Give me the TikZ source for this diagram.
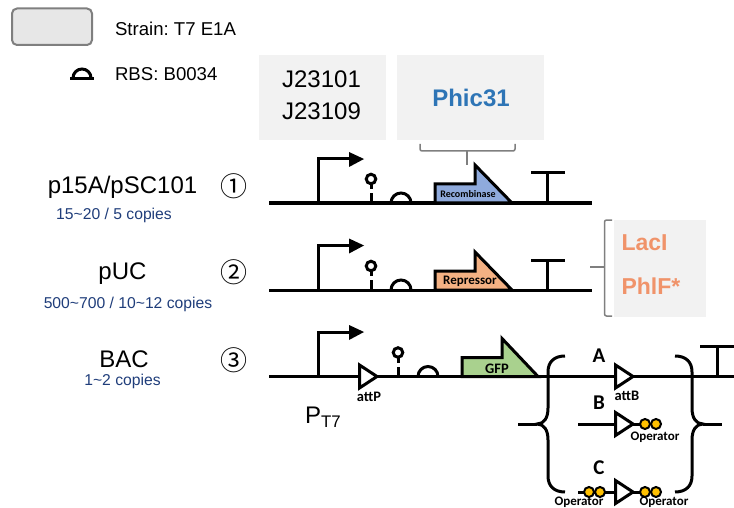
\documentclass[tikz,border=0pt]{standalone}
\usepackage{fontspec}
\setmainfont{Liberation Sans}
\newfontfamily\partfont{Carlito}
\newfontfamily\circfont{Noto Sans CJK KR}
\definecolor{boxgray}{HTML}{F2F2F2}
\definecolor{straingray}{HTML}{E7E7E7}
\definecolor{bracegray}{HTML}{7F7F7F}
\definecolor{copyblue}{HTML}{1F3D7A}
\definecolor{phicblue}{HTML}{2E75B6}
\definecolor{lacorange}{HTML}{F0936A}
\definecolor{recblue}{HTML}{8FAADC}
\definecolor{repfill}{HTML}{F4B183}
\definecolor{gfpgreen}{HTML}{A9D18E}
\definecolor{opyellow}{HTML}{FFC000}
\tikzset{
    part/.style={line width=3pt, black},
    cds/.style={part, line join=miter},
    attsite/.style={part, fill=white, line join=miter},
    opdot/.style={line width=2pt, black, fill=opyellow},
    bracket/.style={line width=1.5pt, bracegray, rounded corners=2pt},
    bigtext/.style={font=\fontsize{24}{24}\selectfont},
    copies/.style={font=\fontsize{15.7}{16}\selectfont, text=copyblue},
    circnum/.style={font=\circfont\fontsize{27}{27}\selectfont},
    plabel/.style={font=\partfont\bfseries\fontsize{14.5}{15}\selectfont, text=black},
    oplabel/.style={font=\partfont\bfseries\fontsize{13}{14}\selectfont, text=black},
    variant/.style={font=\partfont\bfseries\fontsize{21}{21}\selectfont, text=black},
    legendtext/.style={font=\fontsize{18.6}{19}\selectfont, anchor=west},
    grayblock/.style={fill=boxgray, draw=none},
}
\begin{document}
\frenchspacing
\begin{tikzpicture}[x=1pt,y=-1pt]
    \useasboundingbox (0,0) rectangle (734,508);

    % legend
    \draw[line width=2pt, bracegray, fill=straingray, rounded corners=5pt] (12,8.5) rectangle (92,45);
    \node[legendtext] (strain) at (111.5,29) {Strain: T7 E1A};
    \node[legendtext] (rbs) at (111.5,74.5) {RBS: B0034};
    \draw[part] (70,78.5) -- (94,78.5);
    \draw[part] (73,78) arc (180:360:9);

    % promoter boxes
    \fill[grayblock] (259,55) rectangle (386,140);
    \fill[grayblock] (397,55) rectangle (544,140);
    \node[bigtext] (jone) at (321.5,79.5) {J23101};
    \node[bigtext] (jtwo) at (321.5,111.5) {J23109};
    \node[font=\fontsize{24}{24}\selectfont\bfseries, text=phicblue] (phic) at (471,98) {Phic31};
    \draw[bracket] (420,144) -- (420,151) -- (515,151) -- (515,144);
    \draw[line width=1.5pt, bracegray] (467,151) -- (467,165);

    % repressor box
    \fill[grayblock] (614,220) rectangle (706,317);
    \node[font=\fontsize{23}{24}\selectfont\bfseries, text=lacorange, anchor=west] (laci) at (618,243) {LacI};
    \node[font=\fontsize{23}{24}\selectfont\bfseries, text=lacorange, anchor=west] (phlf) at (618,286) {PhlF*};
    \draw[bracket] (612,220) -- (604.5,220) -- (604.5,316) -- (612,316);
    \draw[line width=1.5pt, bracegray] (590,267) -- (604.5,267);

    % row 1
    \node[bigtext] (pa) at (122.5,187) {p15A/pSC101};
    \node[copies] (ca) at (114,215.5) {15\char`~20 / 5 copies};
    \node[circnum] (na) at (234,186) {①};
    \draw[part] (269,203) -- (592,203);
    \draw[part] (318,203) -- (318,159) -- (350,159);
    \fill (349,152) -- (364,159) -- (349,167) -- cycle;
    \draw[part] (371,203) -- (371,193);
    \draw[part] (371,189) -- (371,184);
    \draw[part] (371,179) circle (4.75);
    \draw[part] (391,203) arc (180:360:10);
    \draw[cds, fill=recblue] (435,203) -- (435,184) -- (475,184) -- (475,165) -- (512,203) -- cycle;
    \node[plabel, font=\partfont\bfseries\fontsize{10}{10}\selectfont] (rec) at (468,194.5) {Recombinase};
    \draw[part] (547,203) -- (547,173);
    \draw[part] (531,173) -- (565,173);

    % row 2
    \node[bigtext] (pb) at (122.5,274) {pUC};
    \node[copies] (cb) at (128,304.5) {500\char`~700 / 10\char`~12 copies};
    \node[circnum] (nb) at (234,272.5) {②};
    \draw[part] (269,290) -- (592,290);
    \draw[part] (318,290) -- (318,245.5) -- (350,245.5);
    \fill (349,238.5) -- (364,245.5) -- (349,253.5) -- cycle;
    \draw[part] (371,290) -- (371,280);
    \draw[part] (371,276) -- (371,271);
    \draw[part] (371,266) circle (4.75);
    \draw[part] (391,290) arc (180:360:10);
    \draw[cds, fill=repfill] (435,290) -- (435,271) -- (475,271) -- (475,252) -- (512,290) -- cycle;
    \node[plabel, font=\partfont\bfseries\fontsize{13}{13}\selectfont] (rep) at (470,281.5) {Repressor};
    \draw[part] (547,290) -- (547,260);
    \draw[part] (531,260) -- (565,260);

    % row 3
    \node[bigtext] (pc) at (124,359.5) {BAC};
    \node[copies] (cc) at (122.5,381) {1\char`~2 copies};
    \node[circnum] (nc) at (234,360) {③};
    \node[bigtext, anchor=west, inner sep=0pt] (pt) at (305,417) {P\textsubscript{T7}};
    \draw[part] (269,376.5) -- (734,376.5);
    \draw[part] (318,376.5) -- (318,332) -- (350,332);
    \fill (349,325) -- (364,332) -- (349,340) -- cycle;
    \draw[attsite] (359.5,365) -- (377,376.5) -- (359.5,388) -- cycle;
    \node[plabel] (attp) at (369,397) {attP};
    \draw[part] (398,376.5) -- (398,366.5);
    \draw[part] (398,362.5) -- (398,357.5);
    \draw[part] (398,352.5) circle (4.75);
    \draw[part] (418,376.5) arc (180:360:10);
    \draw[cds, fill=gfpgreen] (462,376.5) -- (462,357.5) -- (502,357.5) -- (502,338.5) -- (538,376.5) -- cycle;
    \node[plabel] (gfp) at (497,368.5) {GFP};
    \draw[part] (717,376.5) -- (717,346);
    \draw[part] (700,346) -- (734,346);

    % braces
    \draw[part] (565,356) .. controls (554,356) and (548,362) .. (548,372) -- (548,408) .. controls (548,418) and (544,424) .. (537,424) .. controls (544,424) and (548,430) .. (548,440) -- (548,476) .. controls (548,486) and (554,492) .. (565,492);
    \draw[part] (518,424) -- (537,424);
    \draw[part] (675,356) .. controls (686,356) and (692,362) .. (692,372) -- (692,408) .. controls (692,418) and (696,424) .. (703,424) .. controls (696,424) and (692,430) .. (692,440) -- (692,476) .. controls (692,486) and (686,492) .. (675,492);
    \draw[part] (703,424) -- (722,424);

    % variant A
    \node[variant] (va) at (599,356) {A};
    \draw[attsite] (615.5,365) -- (633,376.5) -- (615.5,388) -- cycle;
    \node[plabel] (attb) at (627,396) {attB};

    % variant B
    \node[variant] (vb) at (599,403) {B};
    \draw[part] (578,424) -- (616,424);
    \draw[attsite] (615.5,412.5) -- (633,424) -- (615.5,435.5) -- cycle;
    \draw[part] (633,424) -- (640,424);
    \draw[opdot] (645,424) circle (5);
    \draw[opdot] (656,424) circle (5);
    \node[oplabel] (opb) at (655,437.5) {Operator};

    % variant C
    \node[variant] (vc) at (599,468) {C};
    \draw[part] (578,492) -- (616,492);
    \draw[opdot] (589,492) circle (5);
    \draw[opdot] (600,492) circle (5);
    \draw[attsite] (615.5,480.5) -- (633,492) -- (615.5,503.5) -- cycle;
    \draw[part] (633,492) -- (640,492);
    \draw[opdot] (645,492) circle (5);
    \draw[opdot] (656,492) circle (5);
    \node[oplabel, inner sep=0pt] (opc) at (579,502) {Operator};
    \node[oplabel, inner sep=0pt] (opd) at (664,502) {Operator};
\end{tikzpicture}
\end{document}
